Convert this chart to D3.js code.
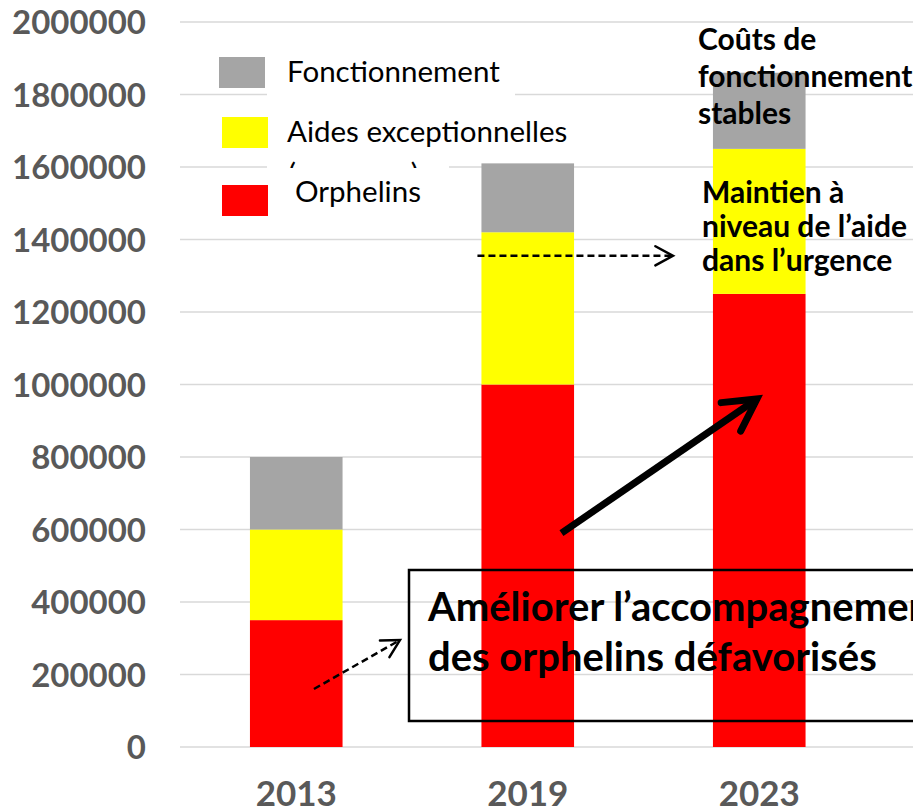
<!DOCTYPE html>
<html>
<head>
<meta charset="utf-8">
<script src="https://cdn.jsdelivr.net/npm/d3@7"></script>
<style>
  html, body { margin: 0; padding: 0; background: #fff; overflow: hidden; }
  svg { display: block; }
  text { font-family: Lato, "Open Sans", sans-serif; }
</style>
</head>
<body>
<svg id="chart" width="913" height="812"></svg>
<script>
// ---- Data ----
const years = ["2013", "2019", "2023"];
const orphelins = [350000, 1000000, 1250000];
const aides = [250000, 420000, 400000];
const fonctionnement = [200000, 190000, 210000];
const yTicks = [0, 200000, 400000, 600000, 800000, 1000000, 1200000, 1400000, 1600000, 1800000, 2000000];
const seriesKeys = ["orphelins", "aides", "fonctionnement"];
const seriesColors = ["#FF0000", "#FFFF00", "#A5A5A5"];
const legendLabels = ["Fonctionnement", "Aides exceptionnelles", "Orphelins"];
const legendColors = ["#A5A5A5", "#FFFF00", "#FF0000"];

const table = years.map((yr, i) => ({
  year: yr, orphelins: orphelins[i], aides: aides[i], fonctionnement: fonctionnement[i]
}));

const svg = d3.select("#chart");
const W = 913;

const x = d3.scaleBand().domain(years).range([180.5, 875]).paddingInner(0.6).paddingOuter(0.3);
const y = d3.scaleLinear().domain([0, 2000000]).range([747, 22]);

// defs
const defs = svg.append("defs");
defs.append("clipPath").attr("id", "legclip")
  .append("rect").attr("x", 260).attr("y", 100).attr("width", 200).attr("height", 68);

// gridlines
svg.append("g").selectAll("line").data(yTicks).join("line")
  .attr("x1", 180).attr("x2", W)
  .attr("y1", d => y(d)).attr("y2", d => y(d))
  .attr("stroke", "#D9D9D9").attr("stroke-width", 1.5);

// y axis labels
const yAxis = d3.axisLeft(y).tickValues(yTicks).tickSize(0).tickPadding(0).tickFormat(d3.format("d"));
const yg = svg.append("g").attr("transform", "translate(146,0)").call(yAxis);
yg.select(".domain").remove();
yg.selectAll("text")
  .attr("fill", "#595959").attr("font-size", 33).attr("font-weight", 700)
  .attr("font-family", "Lato").attr("dy", "0.36em");

// x axis labels
const xAxis = d3.axisBottom(x).tickSize(0).tickPadding(0);
const xg = svg.append("g").attr("transform", "translate(0,806)").call(xAxis);
xg.select(".domain").remove();
xg.selectAll("text")
  .attr("fill", "#595959").attr("font-size", 35).attr("font-weight", 700)
  .attr("font-family", "Lato").attr("dy", 0);

// stacked bars
const stack = d3.stack().keys(seriesKeys)(table);
svg.append("g").selectAll("g").data(stack).join("g")
  .attr("fill", (d, i) => seriesColors[i])
  .selectAll("rect").data(d => d).join("rect")
  .attr("x", d => x(d.data.year))
  .attr("width", x.bandwidth())
  .attr("y", d => y(d[1]))
  .attr("height", d => y(d[0]) - y(d[1]));

// legend (white text boxes hiding gridlines)
svg.append("rect").attr("x", 267).attr("y", 50).attr("width", 248).attr("height", 55).attr("fill", "#fff");
svg.append("rect").attr("x", 267).attr("y", 108).attr("width", 182).attr("height", 61).attr("fill", "#fff");

const legSq = [[219, 57], [222, 117], [222, 185]];
svg.append("g").selectAll("rect").data(legendLabels).join("rect")
  .attr("x", (d, i) => legSq[i][0]).attr("y", (d, i) => legSq[i][1])
  .attr("width", 46).attr("height", 31)
  .attr("fill", (d, i) => legendColors[i]);
const legTxt = [[287, 82], [287, 142], [295, 202]];
svg.append("g").selectAll("text").data(legendLabels).join("text")
  .attr("x", (d, i) => legTxt[i][0]).attr("y", (d, i) => legTxt[i][1])
  .attr("font-size", 29.5).attr("fill", "#000")
  .text(d => d);
// clipped second line of the legend label
svg.append("text").attr("x", 288).attr("y", 184).attr("font-size", 29.5)
  .attr("clip-path", "url(#legclip)").text("(urgences)");

// annotation texts
function lines(arr, x0, y0, dy, size) {
  const t = svg.append("text").attr("font-size", size).attr("font-weight", 700).attr("fill", "#000");
  arr.forEach((s, i) => t.append("tspan").attr("x", x0).attr("y", y0 + i * dy).text(s));
}
lines(["Coûts de", "fonctionnement", "stables"], 698, 50, 37, 30);
lines(["Maintien à", "niveau de l’aide", "dans l’urgence"], 702, 203, 34, 30);

// box
svg.append("rect").attr("x", 409).attr("y", 570).attr("width", 600).attr("height", 151)
  .attr("fill", "none").attr("stroke", "#000").attr("stroke-width", 2.5);
lines(["Améliorer l’accompagnement", "des orphelins défavorisés"], 428, 621, 50, 40);

// arrows
function arrow(x1, y1, x2, y2, width, dashed, head) {
  const g = svg.append("g").attr("stroke", "#000").attr("fill", "none")
    .attr("stroke-width", width);
  g.append("line").attr("x1", x1).attr("y1", y1).attr("x2", x2).attr("y2", y2)
    .attr("stroke-dasharray", dashed ? "7,4" : null);
  const ang = Math.atan2(y2 - y1, x2 - x1);
  const a1 = ang + Math.PI - 0.5, a2 = ang + Math.PI + 0.5;
  g.append("polyline")
    .attr("points", [[x2 + head * Math.cos(a1), y2 + head * Math.sin(a1)], [x2, y2],
      [x2 + head * Math.cos(a2), y2 + head * Math.sin(a2)]].map(p => p.join(",")).join(" "))
    .attr("stroke-linecap", "round").attr("stroke-linejoin", "miter");
}
const x13 = x("2013"), x19 = x("2019"), x23 = x("2023");
arrow(x19 - 4, y(1355000), x23 - 40, y(1355000), 2.5, true, 20);
arrow(x13 + 64, y(160000), x13 + 150, y(295000), 2.5, true, 20);
arrow(x19 + 80, y(590000), x23 + 44, y(960000), 7, false, 36);
</script>
</body>
</html>
